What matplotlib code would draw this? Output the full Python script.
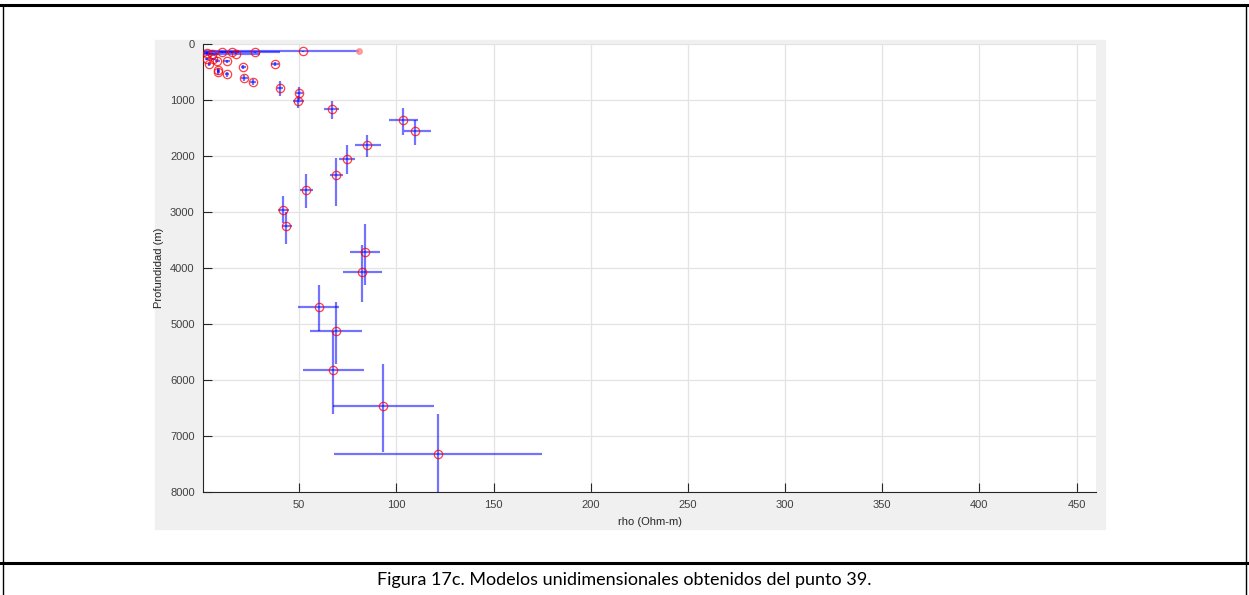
import matplotlib.pyplot as plt
from matplotlib.patches import Rectangle
from matplotlib.lines import Line2D
import numpy as np

# resistivity (Ohm-m) and depth (m) of each layer, with lower/upper bounds
rho = [52.2, 27.3, 17.5, 15.3, 10.2, 5.0, 2.5, 2.5, 5.6, 7.8, 12.8, 3.8, 37.6,
       21.3, 8.3, 8.3, 12.8, 21.7, 26.1, 40.2, 50.1, 49.4, 66.8, 103.6, 109.8,
       85.1, 74.7, 68.8, 53.7, 41.7, 43.4, 83.9, 82.2, 60.3, 69.0, 67.5, 93.2,
       121.3]
rho_lo = [1.0, 1.0, 1.0, 12.0, 8.0, 2.0, 1.0, 1.5, 4.0, 6.5, 11.0, 3.0, 35.5,
          19.8, 7.5, 7.5, 11.8, 20.0, 24.5, 38.5, 48.5, 46.7, 62.8, 96.4, 104.0,
          78.8, 70.6, 65.9, 50.5, 39.3, 41.0, 76.2, 72.4, 49.6, 55.6, 51.7, 67.5,
          67.8]
rho_hi = [81.0, 40.0, 30.0, 19.0, 12.5, 8.0, 4.0, 3.5, 7.0, 9.0, 14.5, 4.6, 39.7,
          22.8, 9.1, 9.1, 13.8, 23.4, 27.7, 41.9, 51.7, 52.5, 70.7, 110.9, 117.8,
          92.0, 78.8, 72.5, 57.0, 44.5, 46.2, 91.6, 92.5, 70.6, 82.2, 83.3, 119.3,
          175.0]
depth = [132, 150, 173, 150, 143, 173, 161, 268, 268, 298, 310, 357, 364, 411,
         459, 507, 543, 607, 679, 780, 875, 1025, 1161, 1357, 1548, 1810, 2048,
         2346, 2614, 2965, 3245, 3721, 4066, 4697, 5132, 5822, 6459, 7328]
depth_lo = [122, 138, 160, 140, 134, 160, 150, 245, 245, 275, 285, 330, 330, 380,
            420, 470, 500, 560, 630, 668, 768, 936, 1025, 1143, 1352, 1620, 1798,
            2036, 2321, 2720, 3007, 3214, 3584, 4298, 4614, 5132, 5714, 6607]
depth_hi = [142, 162, 186, 160, 152, 186, 172, 290, 290, 320, 335, 385, 400, 445,
            500, 545, 585, 655, 730, 923, 995, 1143, 1339, 1620, 1798, 2025, 2316,
            2888, 2929, 3196, 3571, 4298, 4607, 5132, 5714, 6607, 7293, 8300]

xticks = [50, 100, 150, 200, 250, 300, 350, 400, 450]
yticks = [0, 1000, 2000, 3000, 4000, 5000, 6000, 7000, 8000]

plt.rcParams['font.family'] = ['Liberation Sans', 'DejaVu Sans']

fig = plt.figure(figsize=(12.49, 5.95), dpi=100)
W, H = 1249, 595

# grey figure panel behind the axes
fig.patches.append(Rectangle((155 / W, 1 - 529 / H), 950 / W, 489 / H,
                             transform=fig.transFigure, color='#f0f0f0', zorder=-10))

# table borders and caption
for y in (1 - 5 / H, 1 - 563 / H):
    fig.add_artist(Line2D([0, 1], [y, y], transform=fig.transFigure, color='black', lw=2.2))
for x in (3.5 / W, 1245.5 / W):
    fig.add_artist(Line2D([x, x], [0, 1 - 5 / H], transform=fig.transFigure, color='black', lw=1))
fig.text(0.5, 1 - 580 / H, 'Figura 17c. Modelos unidimensionales obtenidos del punto 39.',
         ha='center', va='center', fontsize=13,
         family=['Lato', 'DejaVu Sans'], color='black')

ax = fig.add_axes([203 / W, 1 - 492 / H, 893 / W, 448 / H])
ax.set_facecolor('white')

rho_a = np.array(rho)
dep_a = np.array(depth)
xerr = [rho_a - np.array(rho_lo), np.array(rho_hi) - rho_a]
yerr = [dep_a - np.array(depth_lo), np.array(depth_hi) - dep_a]

ax.errorbar(rho_a, dep_a, xerr=xerr, yerr=yerr, fmt='none', ecolor='blue',
            elinewidth=1.6, alpha=0.55, capsize=0, zorder=3)
ax.plot(rho_a, dep_a, 'o', mfc='none', mec='red', ms=6, mew=0.9, alpha=0.75, zorder=4)
ax.plot([81], [132], 'o', color='#ff8080', ms=4, alpha=0.7, zorder=4)

ax.set_xlim(0.5, 460)
ax.set_ylim(8000, 0)
ax.set_xticks(xticks)
ax.set_yticks(yticks)
ax.tick_params(direction='in', length=6.5, width=0.8, colors='#262626', labelsize=8, pad=6)
ax.tick_params(labelcolor='#404040')
ax.grid(True, color='#e3e3e3', lw=0.9)
ax.set_axisbelow(True)
for side in ('top', 'right'):
    ax.spines[side].set_visible(False)
for side in ('left', 'bottom'):
    ax.spines[side].set_color('#262626')
    ax.spines[side].set_linewidth(0.8)

ax.set_xlabel('rho (Ohm-m)', fontsize=8, color='#262626', labelpad=5)
ax.set_ylabel('Profundidad (m)', fontsize=8, color='#262626', labelpad=4)

fig.savefig('out.png', dpi=100)
